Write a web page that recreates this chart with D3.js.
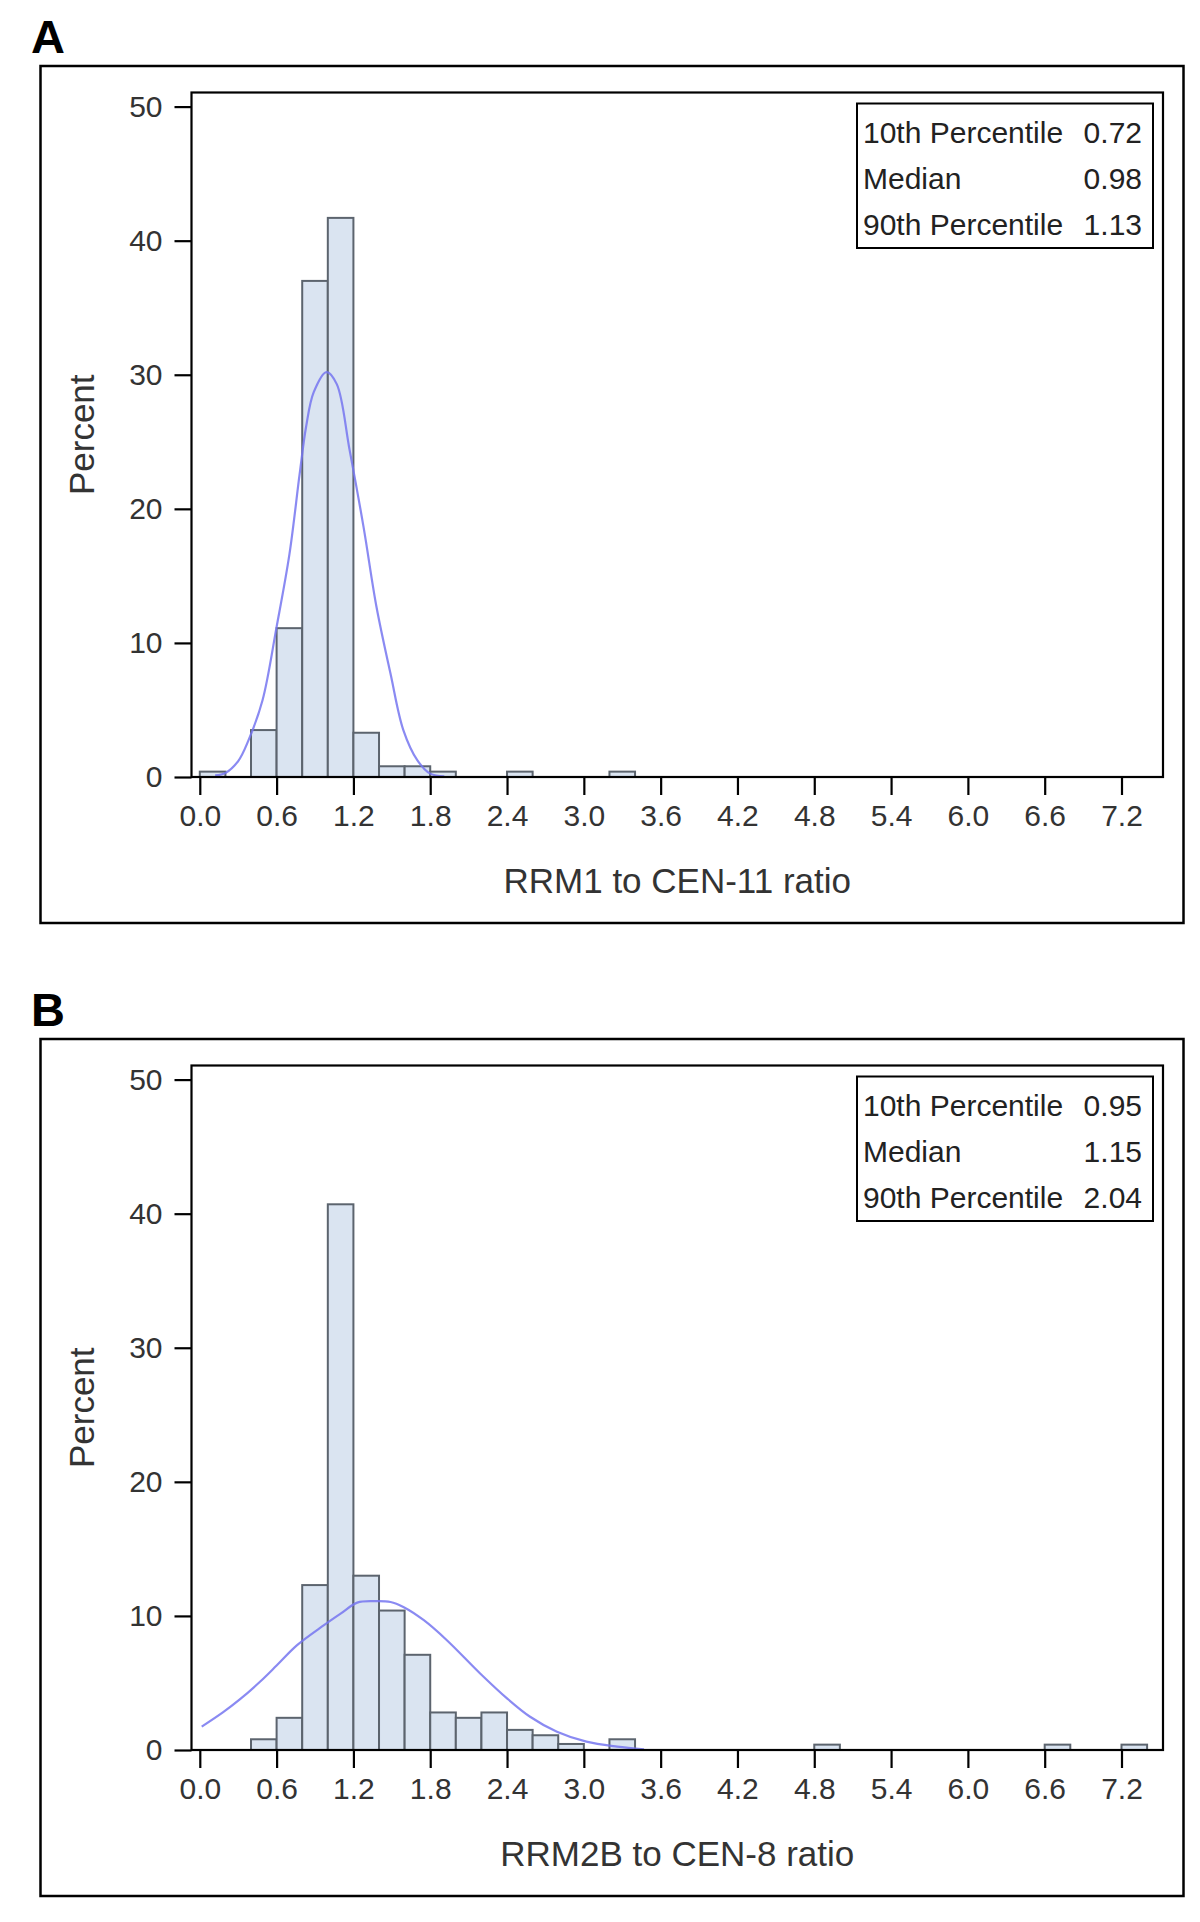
<!DOCTYPE html>
<html>
<head>
<meta charset="utf-8">
<script src="https://cdn.jsdelivr.net/npm/d3@7"></script>
<style>
  html, body { margin: 0; padding: 0; background: #fff; }
  svg { display: block; }
  text { font-family: "Liberation Sans", Arial, sans-serif; }
</style>
</head>
<body>
<svg id="chart" width="1200" height="1922"></svg>
<script>
// ---------- DATA ----------
const panelLetters = ["A", "B"];
const xAxisTitles = ["RRM1 to CEN-11 ratio", "RRM2B to CEN-8 ratio"];
const yAxisTitle = "Percent";
const xTickValues = [0.0, 0.6, 1.2, 1.8, 2.4, 3.0, 3.6, 4.2, 4.8, 5.4, 6.0, 6.6, 7.2];
const yTickValues = [0, 10, 20, 30, 40, 50];
const binWidth = 0.2;

// histogram bins: left edge of each bin and its percent
const binStartsA = [0.0, 0.4, 0.6, 0.8, 1.0, 1.2, 1.4, 1.6, 1.8, 2.4, 3.2];
const percentsA  = [0.4, 3.5, 11.1, 37.0, 41.7, 3.3, 0.8, 0.8, 0.4, 0.4, 0.4];

const binStartsB = [0.4, 0.6, 0.8, 1.0, 1.2, 1.4, 1.6, 1.8, 2.0, 2.2, 2.4, 2.6, 2.8, 3.2, 4.8, 6.6, 7.2];
const percentsB  = [0.8, 2.4, 12.3, 40.7, 13.0, 10.4, 7.1, 2.8, 2.4, 2.8, 1.5, 1.1, 0.45, 0.8, 0.4, 0.4, 0.4];

// density curves: x values and percent values
const curveXA = [0.12, 0.20, 0.30, 0.38, 0.49, 0.60, 0.70, 0.78, 0.83, 0.89, 0.99, 1.07, 1.17, 1.28, 1.38, 1.49, 1.59, 1.70, 1.80, 1.91];
const curveYA = [0.12, 0.30, 1.19, 2.73, 5.72, 11.2, 16.6, 22.6, 26.1, 28.7, 30.2, 29.3, 24.4, 18.6, 12.7, 7.7, 3.5, 1.24, 0.25, 0.05];

const curveXB = [0.015, 0.18, 0.31, 0.47, 0.60, 0.76, 0.97, 1.10, 1.23, 1.36, 1.49, 1.59, 1.75, 1.93, 2.19, 2.40, 2.58, 2.79, 3.02, 3.26, 3.47];
const curveYB = [1.74, 2.80, 3.75, 5.09, 6.30, 7.82, 9.31, 10.17, 10.99, 11.1, 11.04, 10.67, 9.68, 8.19, 5.71, 3.85, 2.48, 1.36, 0.62, 0.25, 0.05];

// statistics inset
const statLabels = ["10th Percentile", "Median", "90th Percentile"];
const statValuesA = ["0.72", "0.98", "1.13"];
const statValuesB = ["0.95", "1.15", "2.04"];

// ---------- DRAW ----------
const svg = d3.select("#chart");
const panels = [
  { letter: panelLetters[0], title: xAxisTitles[0], starts: binStartsA, pcts: percentsA, cx: curveXA, cy: curveYA, stats: statValuesA },
  { letter: panelLetters[1], title: xAxisTitles[1], starts: binStartsB, pcts: percentsB, cx: curveXB, cy: curveYB, stats: statValuesB }
];
const panelOffset = 973;

panels.forEach((p, i) => {
  const g = svg.append("g").attr("transform", `translate(0,${i * panelOffset})`);

  // panel letter
  g.append("text").attr("x", 31).attr("y", 53)
    .attr("font-size", 47).attr("font-weight", "bold").attr("fill", "#000")
    .text(p.letter);

  // outer frame
  g.append("rect").attr("x", 40.5).attr("y", 66).attr("width", 1143).attr("height", 857)
    .attr("fill", "#fff").attr("stroke", "#000").attr("stroke-width", 2.5);

  const plotL = 191.5, plotR = 1163, plotT = 92.5, plotB = 777;
  const x = d3.scaleLinear().domain([0, 7.2]).range([199.8, 1121.5]);
  const y = d3.scaleLinear().domain([0, 50]).range([plotB, 106.6]);

  // bars
  g.append("g").selectAll("rect").data(p.starts.map((s, k) => ({ s, v: p.pcts[k] })))
    .join("rect")
    .attr("x", d => x(d.s))
    .attr("width", d => x(d.s + binWidth) - x(d.s))
    .attr("y", d => y(d.v))
    .attr("height", d => y(0) - y(d.v))
    .attr("fill", "#dae4f1")
    .attr("stroke", "#5c646e")
    .attr("stroke-width", 2);

  // density curve
  const line = d3.line().x(d => x(d[0])).y(d => y(d[1])).curve(d3.curveCatmullRom.alpha(0.5));
  g.append("path").datum(p.cx.map((v, k) => [v, p.cy[k]]))
    .attr("d", line).attr("fill", "none")
    .attr("stroke", "#7676f0").attr("stroke-width", 2.2).attr("stroke-opacity", 0.85);

  // plot frame
  g.append("rect").attr("x", plotL).attr("y", plotT).attr("width", plotR - plotL).attr("height", plotB - plotT)
    .attr("fill", "none").attr("stroke", "#000").attr("stroke-width", 2.2);

  // axes
  const yAxis = d3.axisLeft(y).tickValues(yTickValues).tickSize(17).tickPadding(12).tickFormat(d3.format("d"));
  const ya = g.append("g").attr("transform", `translate(${plotL},0)`).call(yAxis);
  const xAxis = d3.axisBottom(x).tickValues(xTickValues).tickSize(18).tickPadding(10).tickFormat(d3.format(".1f"));
  const xa = g.append("g").attr("transform", `translate(0,${plotB})`).call(xAxis);
  [ya, xa].forEach(a => {
    a.select(".domain").remove();
    a.selectAll(".tick line").attr("stroke", "#000").attr("stroke-width", 2.2);
    a.selectAll(".tick text").attr("font-size", 30).attr("fill", "#333")
      .attr("font-family", "'Liberation Sans', Arial, sans-serif");
  });

  // axis titles
  g.append("text").attr("transform", `translate(94,${(plotT + plotB) / 2}) rotate(-90)`)
    .attr("text-anchor", "middle").attr("font-size", 35).attr("fill", "#333").text(yAxisTitle);
  g.append("text").attr("x", (plotL + plotR) / 2).attr("y", 893)
    .attr("text-anchor", "middle").attr("font-size", 35).attr("fill", "#333").text(p.title);

  // stats inset
  const bx = 857, by = 103.5, bw = 296, bh = 144.5;
  g.append("rect").attr("x", bx).attr("y", by).attr("width", bw).attr("height", bh)
    .attr("fill", "#fff").attr("stroke", "#000").attr("stroke-width", 2);
  statLabels.forEach((lab, k) => {
    const yy = 143 + k * 46;
    g.append("text").attr("x", 863).attr("y", yy).attr("font-size", 30).attr("fill", "#222").text(lab);
    g.append("text").attr("x", 1142).attr("y", yy).attr("text-anchor", "end")
      .attr("font-size", 30).attr("fill", "#222").text(p.stats[k]);
  });
});
</script>
</body>
</html>
